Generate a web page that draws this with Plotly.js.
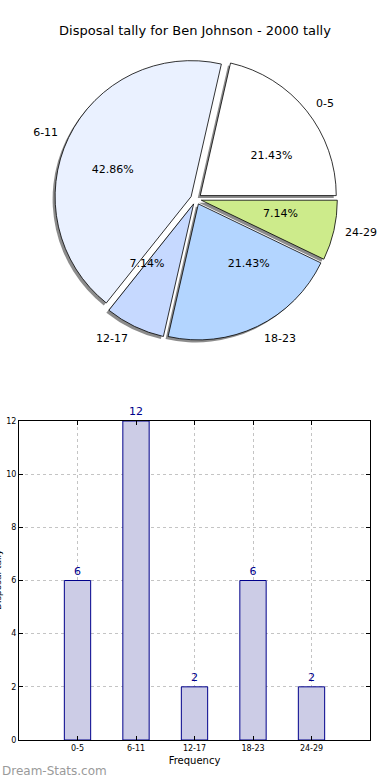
<!DOCTYPE html>
<html>
<head>
<meta charset="utf-8">
<script src="https://cdn.plot.ly/plotly-3.0.1.min.js"></script>
<style>html,body{margin:0;padding:0;background:#fff;}#chart{width:390px;height:780px;}</style>
</head>
<body>
<div id="chart"></div>
<script>
// ---- data ----
const chartTitle = 'Disposal tally for Ben Johnson - 2000 tally';
const categories = ['0-5', '6-11', '12-17', '18-23', '24-29'];
const tally = [6, 12, 2, 6, 2];
const pieColors = ['#ffffff', '#eaf1ff', '#c6d9ff', '#b3d5ff', '#cdeb8b'];
const yTitle = 'Disposal tally';
const xTitle = 'Frequency';
const watermark = 'Dream-Stats.com';

// ---- layout helpers (pixels -> paper) ----
const W = 390, H = 780;
const px = v => v / W;
const py = v => 1 - v / H;
const R = 136;          // pie radius, px
const pull = 0.04;      // explode fraction of R
const cx = 196, cy = 199;
function pieDomain(r, p, dx, dy) {
  const D = r * (2 + 2 * p);
  return {x: [px(cx + dx - D / 2), px(cx + dx + D / 2)], y: [py(cy + dy + D / 2), py(cy + dy - D / 2)]};
}
function pullsFor(r) { return categories.map(() => pull * R / r); }
const total = tally.reduce((a, b) => a + b, 0);
// first slice starts at 3 o'clock and runs counterclockwise
const rot = 90 - 360 * tally[0] / total;
const FONT = 'DejaVu Sans';
const common = {type: 'pie', values: tally, labels: categories, sort: false,
  direction: 'counterclockwise', rotation: rot, showlegend: false};

const shadow = Object.assign({}, common, {
  pull: pullsFor(R), domain: pieDomain(R, pull, -2.5, 2.5),
  marker: {colors: categories.map(() => 'rgba(0,0,0,0.45)'), line: {width: 0}},
  textinfo: 'none', hoverinfo: 'skip'
});
const main = Object.assign({}, common, {
  pull: pullsFor(R), domain: pieDomain(R, pull, 0, 0),
  marker: {colors: pieColors, line: {color: '#000', width: 0.8}},
  textinfo: 'none', hoverinfo: 'label+percent'
});
const rPct = 60;
const pctTrace = Object.assign({}, common, {
  pull: pullsFor(rPct), domain: pieDomain(rPct, pull * R / rPct, 0, 0),
  marker: {colors: categories.map(() => 'rgba(0,0,0,0)'), line: {width: 0}},
  texttemplate: '%{percent:.2%}', textposition: 'outside',
  outsidetextfont: {family: FONT, size: 11, color: '#000'},
  hoverinfo: 'skip'
});
const rLab = 144;
const labelsTrace = Object.assign({}, common, {
  pull: pullsFor(rLab), domain: pieDomain(rLab, pull * R / rLab, 0, 0),
  marker: {colors: categories.map(() => 'rgba(0,0,0,0)'), line: {width: 0}},
  textinfo: 'label', textposition: 'outside',
  outsidetextfont: {family: FONT, size: 11, color: '#000'},
  hoverinfo: 'skip'
});
const bars = {
  type: 'bar', x: categories, y: tally, width: 0.45,
  marker: {color: '#ccccE6', line: {color: '#00008b', width: 1}},
  text: tally.map(String), textposition: 'outside', cliponaxis: false,
  textfont: {family: FONT, size: 11, color: '#00008b'},
  xaxis: 'x', yaxis: 'y', showlegend: false
};

const layout = {
  width: W, height: H, margin: {l: 0, r: 0, t: 0, b: 0},
  paper_bgcolor: '#fff', plot_bgcolor: '#fff',
  font: {family: FONT, size: 11, color: '#000'},
  showlegend: false,
  title: {text: chartTitle, font: {family: FONT, size: 13, color: '#000'}, x: 0.5, xanchor: 'center', xref: 'paper', y: py(30), yanchor: 'middle', yref: 'container'},
  xaxis: {
    domain: [px(19), px(370)], anchor: 'y', type: 'category', range: [-1, 5],
    showline: true, linecolor: '#000', linewidth: 1, mirror: 'ticks',
    ticks: 'inside', ticklen: 4, tickcolor: '#000',
    showgrid: true, gridcolor: '#c4c4c4', griddash: 'dot', gridwidth: 1,
    tickfont: {family: FONT, size: 8, color: '#000'},
    title: {text: xTitle, font: {family: FONT, size: 10, color: '#000'}, standoff: 5},
    zeroline: false
  },
  yaxis: {
    domain: [py(740), py(421)], anchor: 'x', range: [0, 12], dtick: 2,
    showline: true, linecolor: '#000', linewidth: 1, mirror: 'ticks',
    ticks: 'inside', ticklen: 4, tickcolor: '#000',
    showgrid: true, gridcolor: '#c4c4c4', griddash: 'dot', gridwidth: 1,
    tickfont: {family: FONT, size: 8, color: '#000'},
    zeroline: false
  },
  annotations: [{
    text: watermark, xref: 'paper', yref: 'paper', x: 0, y: py(771), xanchor: 'left', yanchor: 'middle',
    showarrow: false, font: {family: FONT, size: 12, color: '#9a9a9a'}
  }, {
    // y-axis title, mostly cut off by the left edge as in the original
    text: yTitle, xref: 'paper', yref: 'paper', x: px(-2), y: py(580), xanchor: 'center', yanchor: 'middle',
    textangle: -90, showarrow: false, font: {family: FONT, size: 9, color: '#000'}
  }]
};

Plotly.newPlot('chart', [shadow, main, pctTrace, labelsTrace, bars], layout, {displayModeBar: false, staticPlot: true});
</script>
</body>
</html>
